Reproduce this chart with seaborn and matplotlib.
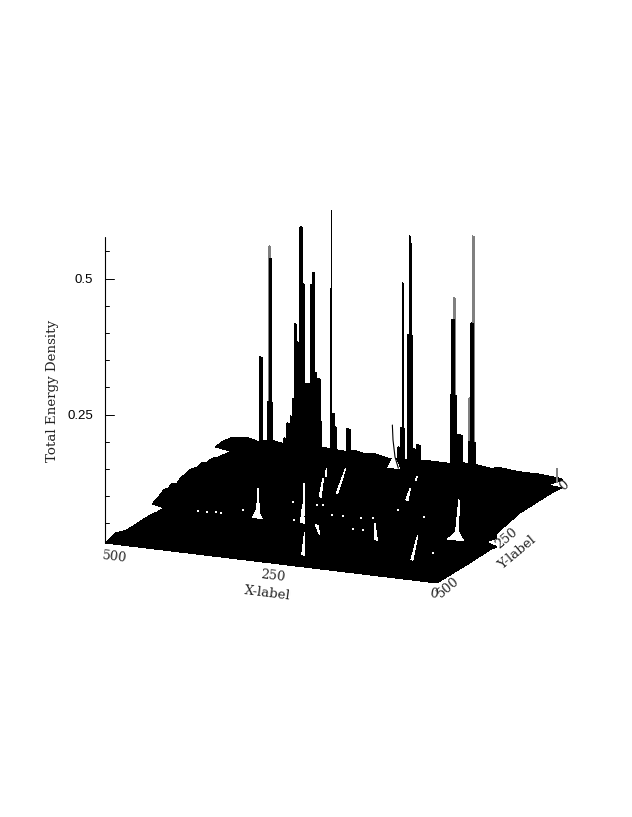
import numpy as np
import pandas as pd
import matplotlib
matplotlib.use('Agg')
import matplotlib.pyplot as plt
import seaborn as sns

# outline of the surface, walking round it from the front left corner
rim_x = [500, 500, 500, 500, 500, 500, 500, 500, 500, 500, 500, 500, 500, 500, 500, 500, 500, 500, 500, 500, 500, 500, 500, 500, 500,
         500, 486, 471, 461, 440, 422, 400, 358, 328, 316, 300, 283, 264, 230, 200, 173, 150, 129, 110, 95, 65, 35, 5, 0,
         0, 0, 0, 0, 0, 0, 0, 0, 0, 0, 0]
rim_y = [500, 460, 413, 321, 294, 266, 313, 282, 266, 250, 232, 214, 198, 183, 160, 135, 115, 95, 75, 56, 0, 63, 36, 4, 0,
         0, 0, 0, 0, 0, 0, 0, 0, 0, 0, 0, 0, 0, 0, 0, 0, 0, 0, 0, 0, 0, 0, 0, 0,
         60, 4, 40, 171, 262, 262, 306, 262, 290, 369, 500]
rim_z = [.014, .021, .014, .016, .014, .014, .034, .042, .048, .046, .050, .045, .052, .052, .056, .053, .056, .050, .053, .048, .045, .070, .072, .070, .070,
         .070, .073, .073, .069, .074, .071, .075, .072, .070, .074, .070, .072, .067, .068, .071, .071, .075, .074, .071, .074, .071, .071, .068, .066,
         .073, .052, .054, .052, .040, .031, .036, .015, .017, .015, .014]

# peaks on the back edge, Y is close to 0 for all of them
peak_lo = [457, 441.3, 444.3, 420.2, 415.7, 411.1, 408.1, 405.1, 401.4, 399.6, 397.6, 396.1, 392, 391.5,
           388.6, 381, 377, 373.5, 370.5, 364.5, 350.9, 350, 349.4, 343.4, 325.8,
           248.5, 244, 242, 242, 233.9, 231.9, 231.9, 225.9, 220.3,
           169.1, 167.6, 160.7, 142.6, 138.6]
peak_hi = [452.6, 438.7, 437.2, 415.7, 411.1, 408.1, 405.1, 401.4, 399.6, 397.6, 396.1, 392, 388.6, 390,
           381, 377, 373.5, 370.5, 364.5, 363, 343.4, 348, 347.9, 340.4, 320.4,
           245.5, 238, 239.5, 240.9, 227, 228.5, 230.4, 220.3, 213.9,
           160.7, 163.4, 151.7, 131.5, 135.5]
peak_z = [.2247, .4087, .144, .081, .1094, .1228, .156, .293, .154, .2605, .163, .4726, .1976, .3684,
          .1859, .3684, .391, .2076, .1973, .1188, .1375, .3653, .5087, .1125, .1118,
          .0897, .1258, .3574, .3923, .298, .4673, .4802, .0897, .0978,
          .1978, .3357, .1256, .1151, .3339]

# the paler peaks
pale_lo = [442.8, 165, 141.6, 136.6, 9.6]
pale_hi = [439.8, 162.6, 138.6, 134, 8.1]
pale_z = [.4307, .3761, .1956, .494, .086]

# thin curve sticking out of the ridge
curve_x = [257, 256, 253, 248]
curve_z = [.1287, .1013, .0706, .0509]

# holes where the floor shows through
hole_x0 = [362, 361, 295, 310, 227, 272, 286, 323, 273, 167, 171, 202, 80, 67, 76, 232]
hole_y0 = [260, 259, 257, 212, 434, 259, 210, 90, 177, 302, 169, 52, 389, 249, 221, 60]
hole_x1 = [377, 424, 332, 377, 271, 251, 322, 339, 315, 204, 192, 207, 125, 82, 147, 253]
hole_y1 = [221, 93, 157, 35, 311, 307, 103, 45, 32, 209, 100, 34, 247, 204, 25, 5]
hole_z = [.014, .014, .014, .014, .014, .014, .05, .05, .05, .014, .05, .05, .014, .014, .014, .07]
hole_w = [15, 5, 6, 2.5, 3.5, 4.5, 3.5, 2.5, 2.5, 4, 3.5, 2, 3, 24, 5, 18]

# single specks
speck_x = [451, 437, 426, 418, 397, 351, 312, 315, 307, 275, 259, 219, 204, 232, 217, 202, 155, 68]
speck_y = [260, 260, 254, 256, 225, 147, 246, 148, 144, 193, 191, 257, 256, 190, 182, 121, 143, 336]

z_ticks = [.05, .1, .15, .2, .25, .3, .35, .4, .45, .5, .55]
z_labels = ['0.25', '0.5']
x_ticks = [500, 250, 0]
y_ticks = [500, 250, 0]


def project(x, y, z):
    # fixed view of the box, result is in picture pixels
    u = 500 - np.asarray(x, dtype=float)
    v = 500 - np.asarray(y, dtype=float)
    z = np.asarray(z, dtype=float)
    return 105 + 0.664 * u + 0.252 * v, 543 + 0.08 * u - 0.15 * v - (z - 0.014) * 544


def fill3d(ax, x, y, z, color):
    px, py = project(x, y, z)
    ax.fill(px, py, color=color, lw=0, antialiased=False)


sns.set_theme(style='white')
plt.rcParams['font.family'] = ['Liberation Sans', 'DejaVu Sans']

fig = plt.figure(figsize=(6.32, 8.17), dpi=100)
ax = fig.add_axes([0, 0, 1, 1])

# surface body
fill3d(ax, rim_x, rim_y, rim_z, 'black')

# peaks start inside the ridge, pale ones underneath
for lo, hi, top in zip(pale_lo, pale_hi, pale_z):
    fill3d(ax, [lo, hi, hi, lo], [0, 0, 0, 0], [.06, .06, top, top], '#808080')
for lo, hi, top in zip(peak_lo, peak_hi, peak_z):
    fill3d(ax, [lo, hi, hi, lo], [0, 0, 0, 0], [.06, .06, top, top], 'black')

# white holes in the surface, wide at the first end
for x0, y0, x1, y1, zh, w in zip(hole_x0, hole_y0, hole_x1, hole_y1, hole_z, hole_w):
    fill3d(ax, [x0 + w / 2, x0 - w / 2, x1 - w * 0.1, x1 + w * 0.1],
           [y0, y0, y1, y1], [zh, zh, zh, zh], 'white')

sx, sy = project(speck_x, speck_y, [.014] * len(speck_x))
sns.scatterplot(x=sx, y=sy, color='white', s=3, marker='s', linewidth=0, ax=ax, legend=False)

cx, cy = project(curve_x, [0] * len(curve_x), curve_z)
sns.lineplot(x=cx, y=cy, color='black', lw=0.8, estimator=None, sort=False, ax=ax, legend=False)

# z axis with its ticks
ax_x, ax_y = project([500, 500], [500, 500], [.014, .5765])
sns.lineplot(x=ax_x, y=ax_y, color='black', lw=0.8, estimator=None, sort=False, ax=ax, legend=False)
for t in z_ticks:
    tx, ty = project(500, 500, t)
    major = f'{t:g}' in z_labels
    ax.plot([tx, tx + (9 if major else 4)], [ty, ty], color='black', lw=0.7)
    if major:
        ax.text(tx - 12, ty + 1, f'{t:g}', ha='right', va='center', fontsize=9.5, color='black')

ax.text(53, 391, 'Total Energy Density', rotation=90, ha='center', va='center',
        fontsize=9.6, family='DejaVu Serif', color='#222222')

# labels of the floor axes, these lean with the edges of the box
x_off = {500: (10, -14), 250: (2, -13), 0: (-3, -11)}
for t in x_ticks:
    ax.annotate(f'{t}', project(t, 500, .014), xytext=x_off[t], textcoords='offset pixels',
                ha='center', va='center', rotation=-7, fontsize=9.3, family='DejaVu Serif')
y_off = {500: (11, -4), 250: (6, 7), 0: (1, 22)}
for t in y_ticks:
    ax.annotate(f'{t}', project(0, t, .014), xytext=y_off[t], textcoords='offset pixels',
                ha='center', va='center', rotation=40, fontsize=9.3, family='DejaVu Serif')
ax.annotate('X-label', project(250, 500, .014), xytext=(-4, -30), textcoords='offset pixels',
            ha='center', va='center', rotation=-7, fontsize=9.6, family='DejaVu Serif')
ax.annotate('Y-label', project(0, 250, .014), xytext=(17, -7), textcoords='offset pixels',
            ha='center', va='center', rotation=40, fontsize=9.6, family='DejaVu Serif')

ax.set_xlim(0, 632)
ax.set_ylim(817, 0)
ax.set_axis_off()

fig.savefig('out.png', dpi=100, facecolor='white')
plt.close(fig)
